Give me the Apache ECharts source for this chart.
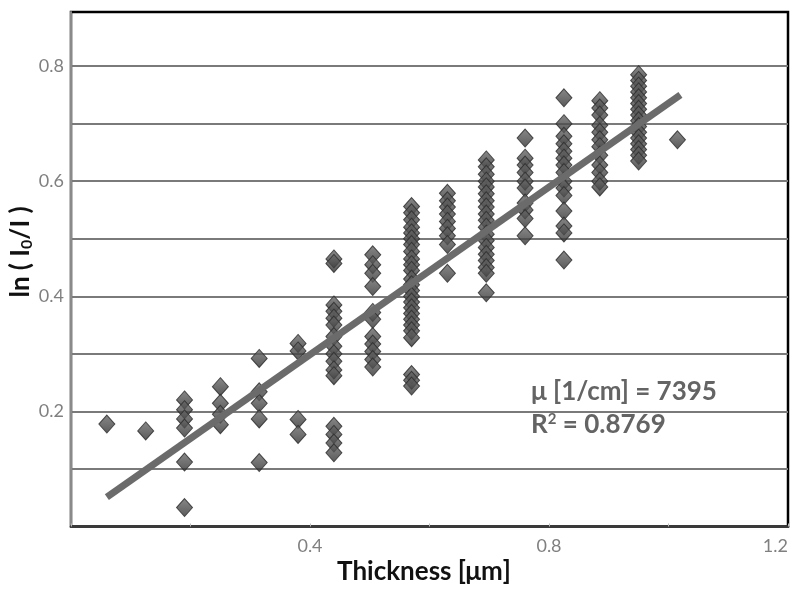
<!DOCTYPE html>
<html>
<head>
<meta charset="utf-8">
<script src="https://cdn.jsdelivr.net/npm/echarts@6/dist/echarts.min.js"></script>
<style>html,body{margin:0;padding:0;background:#fff}#c{width:800px;height:590px}</style>
</head>
<body>
<div id="c"></div>
<script>
// Thickness column positions (µm)
const thickness = [0.06, 0.125, 0.19, 0.25, 0.315, 0.38, 0.44, 0.505, 0.57, 0.63, 0.695, 0.76, 0.825, 0.885, 0.95, 1.015];
// ln(I0/I) values measured at each thickness
const col1 = [0.178];
const col2 = [0.166];
const col3 = [0.22, 0.203, 0.187, 0.171, 0.112, 0.033];
const col4 = [0.243, 0.214, 0.195, 0.177];
const col5 = [0.292, 0.234, 0.214, 0.187, 0.111];
const col6 = [0.318, 0.305, 0.186, 0.16];
const col7 = [0.465, 0.457, 0.385, 0.374, 0.362, 0.35, 0.33, 0.313, 0.3, 0.287, 0.272, 0.262, 0.174, 0.16, 0.145, 0.128];
const col8 = [0.472, 0.455, 0.44, 0.417, 0.372, 0.36, 0.33, 0.317, 0.304, 0.29, 0.277];
const col9 = [0.556, 0.545, 0.533, 0.52, 0.51, 0.5, 0.49, 0.478, 0.465, 0.455, 0.445, 0.43, 0.42, 0.41, 0.4, 0.39, 0.38, 0.37, 0.36, 0.35, 0.34, 0.328, 0.264, 0.254, 0.244];
const col10 = [0.579, 0.566, 0.555, 0.543, 0.53, 0.518, 0.505, 0.49, 0.44];
const col11 = [0.637, 0.625, 0.612, 0.6, 0.59, 0.578, 0.566, 0.555, 0.543, 0.532, 0.52, 0.508, 0.497, 0.485, 0.473, 0.462, 0.45, 0.44, 0.406];
const col12 = [0.675, 0.64, 0.628, 0.615, 0.6, 0.588, 0.562, 0.55, 0.535, 0.505];
const col13 = [0.745, 0.7, 0.678, 0.665, 0.652, 0.64, 0.628, 0.615, 0.6, 0.588, 0.575, 0.548, 0.522, 0.51, 0.463];
const col14 = [0.74, 0.727, 0.715, 0.697, 0.685, 0.672, 0.66, 0.645, 0.628, 0.615, 0.6, 0.59];
const col15 = [0.785, 0.775, 0.765, 0.755, 0.745, 0.735, 0.725, 0.715, 0.705, 0.695, 0.685, 0.675, 0.665, 0.655, 0.645, 0.635];
const col16 = [0.672];
const columns = [col1, col2, col3, col4, col5, col6, col7, col8, col9, col10, col11, col12, col13, col14, col15, col16];
// Linear fit end points
const fitX = [0.06, 1.02];
const fitY = [0.051, 0.75];
// Tick labels
const xTickLabels = [0.4, 0.8, 1.2];
const yTickLabels = [0.2, 0.4, 0.6, 0.8];
const muText = 'μ [1/cm] = 7395';
const r2Value = '0.8769';

const points = [];
columns.forEach((col, i) => col.forEach(v => points.push([thickness[i], v])));
const fitLine = fitX.map((x, i) => [x, fitY[i]]);

const near = (v, arr) => arr.some(a => Math.abs(a - v) < 1e-6);
const FONT = 'Lato';
const ANN = '#646464';

const chart = echarts.init(document.getElementById('c'), null, {renderer: 'canvas'});
chart.setOption({
  animation: false,
  backgroundColor: '#fff',
  grid: {left: 71, right: 12, top: 12, bottom: 63.5, show: true, borderColor: '#000', borderWidth: 2.5, backgroundColor: 'transparent'},
  xAxis: {
    type: 'value', min: 0, max: 1.2, interval: 0.2,
    axisLine: {show: true, lineStyle: {color: '#3a3a3a', width: 2.5}},
    axisTick: {show: true, inside: true, length: 3, lineStyle: {color: '#bbb'}},
    splitLine: {show: false},
    axisLabel: {
      color: '#808080', fontSize: 18, fontFamily: FONT, margin: 11, alignMaxLabel: 'right',
      formatter: v => near(v, xTickLabels) ? v.toFixed(1) : ''
    }
  },
  yAxis: {
    type: 'value', min: 0, max: 0.894, interval: 0.1,
    axisLine: {show: true, lineStyle: {color: '#8a8a8a', width: 2}},
    axisTick: {show: false},
    splitLine: {show: true, showMaxLine: false, showMinLine: false, lineStyle: {color: '#7a7a7a', width: 2.2}},
    axisLabel: {
      color: '#808080', fontSize: 18, fontFamily: FONT, margin: 7, showMaxLabel: false,
      formatter: v => near(v, yTickLabels) ? v.toFixed(1) : ''
    }
  },
  graphic: [
    {type: 'text', x: 424, y: 572, style: {text: 'Thickness [μm]', fontFamily: FONT, fontWeight: 'bold', fontSize: 26, fill: '#111', align: 'center', verticalAlign: 'middle'}},
    {type: 'text', x: 21, y: 252, rotation: Math.PI / 2, style: {
      text: '{a|ln ( I}{s|0}{a|/I )}', align: 'center', verticalAlign: 'middle',
      rich: {a: {fontFamily: FONT, fontWeight: 'bold', fontSize: 26, fill: '#111'},
             s: {fontFamily: FONT, fontWeight: 'bold', fontSize: 16, fill: '#111', padding: [12, 0, 0, 0]}}
    }},
    {type: 'text', x: 531, y: 392, z: 10, style: {text: muText, fontFamily: FONT, fontWeight: 'bold', fontSize: 26, fill: ANN, verticalAlign: 'middle'}},
    {type: 'text', x: 531, y: 425, z: 10, style: {
      text: '{a|R}{s|2}{a| = ' + r2Value + '}', verticalAlign: 'middle',
      rich: {a: {fontFamily: FONT, fontWeight: 'bold', fontSize: 26, fill: ANN},
             s: {fontFamily: FONT, fontWeight: 'bold', fontSize: 15, fill: ANN, padding: [0, 0, 12, 0]}}
    }}
  ],
  series: [
    {
      type: 'scatter', data: points, symbol: 'diamond', symbolSize: [16, 18], z: 2,
      itemStyle: {
        color: new echarts.graphic.LinearGradient(0, 0, 0, 1, [
          {offset: 0, color: '#6a6a6a'}, {offset: 0.5, color: '#4e4e4e'}, {offset: 1, color: '#303030'}
        ]),
        borderColor: '#2a2a2a', borderWidth: 1
      }
    },
    {
      type: 'line', data: fitLine, showSymbol: false, symbol: 'none', z: 3,
      lineStyle: {color: '#6b6b6b', width: 7}
    }
  ]
});
</script>
</body>
</html>
